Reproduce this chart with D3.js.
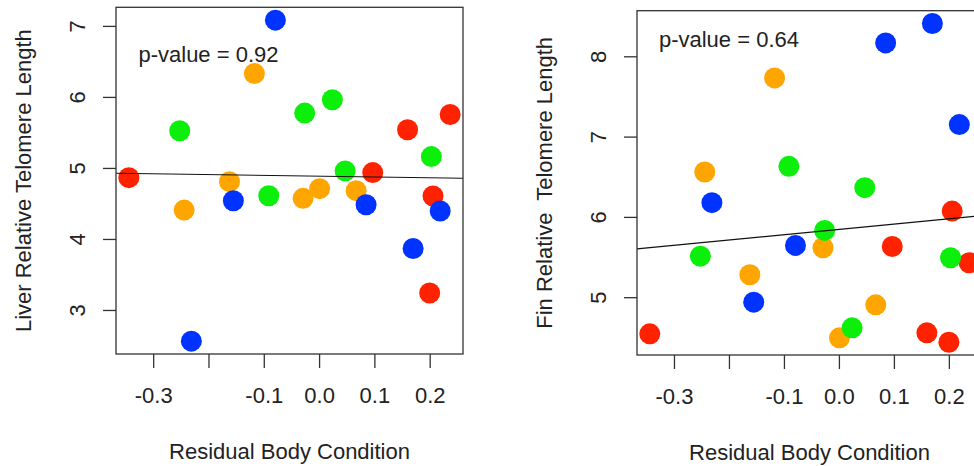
<!DOCTYPE html>
<html>
<head>
<meta charset="utf-8">
<script src="https://d3js.org/d3.v7.min.js"></script>
<style>
  body { margin: 0; background: #fff; }
  svg text { font-family: "Liberation Sans", Arial, sans-serif; fill: #222; }
</style>
</head>
<body>
<svg id="main_graph" width="974" height="466"></svg>
<script>
// shared x: one residual body condition per fish, with its group colour
var bodyCondition = [0.237, -0.344, -0.252, -0.244, -0.231, -0.162, -0.155, -0.117, -0.091, -0.079,
                     -0.029, -0.026, 0.001, 0.024, 0.047, 0.067, 0.085, 0.097, 0.160, 0.170,
                     0.203, 0.200, 0.206, 0.219];
var fishGroup     = ["red", "red", "green", "orange", "blue", "orange", "blue", "orange", "green", "blue",
                     "orange", "green", "orange", "green", "green", "orange", "blue", "red", "red", "blue",
                     "green", "red", "red", "blue"];
var liverTL       = [5.753, 4.863, 5.523, 4.407, 2.561, 4.807, 4.538, 6.328, 4.609, 7.081,
                     4.572, 5.772, 4.708, 5.960, 4.958, 4.680, 4.482, 4.934, 5.537, 3.866,
                     5.160, 3.239, 4.605, 4.393];
var finTL         = [5.429, 4.544, 5.511, 6.559, 6.177, 5.279, 4.938, 7.731, 6.630, 5.645,
                     5.616, 5.832, 4.494, 4.618, 6.364, 4.905, 8.167, 5.632, 4.556, 8.409,
                     5.491, 4.439, 6.072, 7.150];

// fitted lines and labels, one entry per panel
var fitIntercept = [4.884, 5.844];
var fitSlope     = [-0.112, 0.658];
var pValues      = ["0.92", "0.64"];
var pLabelX      = [-0.2, -0.2];
var pLabelY      = [6.6, 8.22];
var yLabels      = ["Liver Relative Telomere Length", "Fin Relative  Telomere Length"];
var yTickValues  = [[3, 4, 5, 6, 7], [5, 6, 7, 8]];
var xTickValues  = [-0.3, -0.2, -0.1, 0.0, 0.1, 0.2];
var xLabel       = "Residual Body Condition";

var colours = { red: "#ff2200", orange: "#ffa500", green: "#0bef0b", blue: "#0033ff" };

var svg = d3.select("svg");

var boxes = [
  { left: 116, top: 7.3,  width: 347, height: 346.7 },
  { left: 637, top: 10.7, width: 345, height: 344.3 }
];

function padded(values) {
  var e = d3.extent(values), p = (e[1] - e[0]) * 0.04;
  return [e[0] - p, e[1] + p];
}

var yData = [liverTL, finTL];
var fmtX = d3.format(".1f");

for (var k = 0; k < 2; k++) {
  var b = boxes[k];
  var g = svg.append("g").attr("transform", "translate(" + b.left + "," + b.top + ")");

  var x = d3.scaleLinear().domain(padded(bodyCondition)).range([0, b.width]);
  var y = d3.scaleLinear().domain(padded(yData[k])).range([b.height, 0]);

  // x axis
  var xa = g.append("g").attr("transform", "translate(0," + b.height + ")")
    .call(d3.axisBottom(x).tickValues(xTickValues).tickSize(14)
      .tickFormat(function(d) { return Math.abs(d + 0.2) < 1e-9 ? "" : fmtX(d).replace("\u2212", "-"); }));
  xa.select(".domain").remove();
  xa.selectAll(".tick line").attr("stroke", "#333").attr("stroke-width", 1.3);
  xa.selectAll(".tick text").attr("y", 49).attr("dy", null)
    .attr("font-size", 22).attr("fill", "#222");

  // y axis
  var ya = g.append("g")
    .call(d3.axisLeft(y).tickValues(yTickValues[k]).tickSize(13).tickFormat(d3.format("d")));
  ya.select(".domain").remove();
  ya.selectAll(".tick line").attr("stroke", "#333").attr("stroke-width", 1.3);
  ya.selectAll(".tick text")
    .attr("x", 0).attr("y", -31.5).attr("dy", null)
    .attr("transform", "rotate(-90)")
    .attr("text-anchor", "middle")
    .attr("font-size", 22).attr("fill", "#222");

  // points
  g.selectAll("circle")
    .data(bodyCondition)
    .enter().append("circle")
    .attr("cx", function(d, i) { return x(d); })
    .attr("cy", function(d, i) { return y(yData[k][i]); })
    .attr("r", 10.5)
    .attr("fill", function(d, i) { return colours[fishGroup[i]]; });

  // fitted line
  var xd = x.domain();
  g.append("line")
    .attr("x1", x(xd[0])).attr("y1", y(fitIntercept[k] + fitSlope[k] * xd[0]))
    .attr("x2", x(xd[1])).attr("y2", y(fitIntercept[k] + fitSlope[k] * xd[1]))
    .attr("stroke", "#111").attr("stroke-width", 1.2);

  // frame
  g.append("rect")
    .attr("width", b.width).attr("height", b.height)
    .attr("fill", "none").attr("stroke", "#333").attr("stroke-width", 1.3);

  // p-value
  g.append("text")
    .attr("x", x(pLabelX[k])).attr("y", y(pLabelY[k]) + 7.9)
    .attr("text-anchor", "middle").attr("font-size", 22)
    .text("p-value = " + pValues[k]);

  // axis titles
  g.append("text")
    .attr("transform", "translate(-85.5," + (b.height / 2) + ") rotate(-90)")
    .attr("text-anchor", "middle").attr("font-size", 22)
    .style("white-space", "pre")
    .text(yLabels[k]);

  g.append("text")
    .attr("x", b.width / 2).attr("y", b.height + 105.5)
    .attr("text-anchor", "middle").attr("font-size", 22)
    .text(xLabel);
}
</script>
</body>
</html>
